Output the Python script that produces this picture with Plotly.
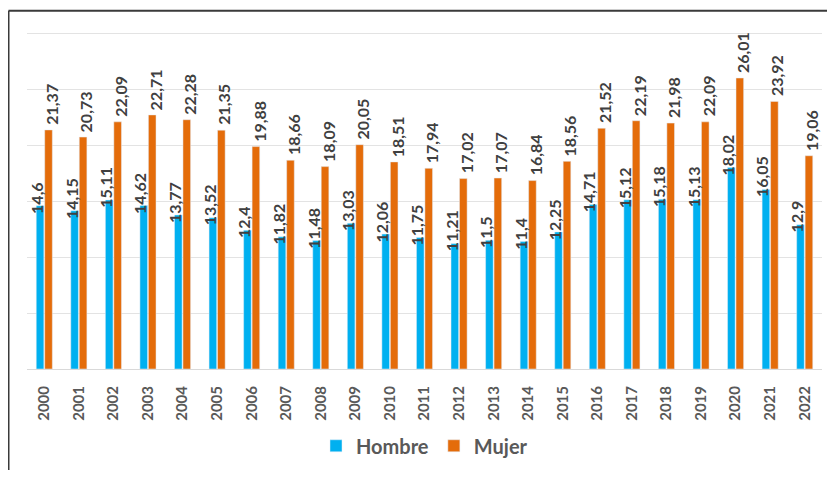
import plotly.graph_objects as go

years = [str(y) for y in range(2000, 2023)]
hombre = [14.6, 14.15, 15.11, 14.62, 13.77, 13.52, 12.4, 11.82, 11.48, 13.03, 12.06, 11.75,
          11.21, 11.5, 11.4, 12.25, 14.71, 15.12, 15.18, 15.13, 18.02, 16.05, 12.9]
mujer = [21.37, 20.73, 22.09, 22.71, 22.28, 21.35, 19.88, 18.66, 18.09, 20.05, 18.51, 17.94,
         17.02, 17.07, 16.84, 18.56, 21.52, 22.19, 21.98, 22.09, 26.01, 23.92, 19.06]

BLUE = "#00B0F0"
ORANGE = "#E46C0A"
TXT = "#404040"

def fmt(v):
    s = ("%.2f" % v).rstrip("0").rstrip(".")
    return s.replace(".", ",")

fig = go.Figure()
fig.add_trace(go.Bar(x=years, y=hombre, name="Hombre", marker_color=BLUE))
fig.add_trace(go.Bar(x=years, y=mujer, name="Mujer", marker_color=ORANGE))

annotations = []
for i, (h, m) in enumerate(zip(hombre, mujer)):
    annotations.append(dict(x=i, y=h, text=fmt(h), textangle=-90, showarrow=False,
                            xanchor="center", yanchor="bottom", xshift=-8, yshift=-10,
                            font=dict(family="Lato", size=16, color=TXT, weight="bold")))
    annotations.append(dict(x=i, y=m, text=fmt(m), textangle=-90, showarrow=False,
                            xanchor="center", yanchor="bottom", xshift=7, yshift=3,
                            font=dict(family="Lato", size=16, color=TXT, weight="bold")))

# page has an 8px body margin on every side; figure sized so the page is 835x478
W, H = 819, 462
base_y = 366          # pixel of y=0 inside figure
ppu = 341 / 30        # pixels per unit
ymax = 30.3
L, R = 19, 5
B = H - base_y
T = base_y - ymax * ppu
pw, ph = W - L - R, H - T - B
bx = (0.5 - L) / pw
ty = (base_y - 2) / ph

fig.update_layout(
    width=W, height=H,
    margin=dict(l=L, r=R, t=T, b=B),
    paper_bgcolor="white", plot_bgcolor="white",
    barmode="group", bargap=0.51, bargroupgap=0.1,
    showlegend=True,
    legend=dict(orientation="h", x=0.5, xanchor="center", y=(base_y - 444) / ph, yanchor="middle",
                font=dict(family="Lato", size=20, color="#595959", weight="bold"),
                itemwidth=30, tracegroupgap=0),
    annotations=annotations,
    shapes=[
        dict(type="line", xref="paper", yref="paper", x0=bx, x1=bx, y0=-0.5, y1=ty,
             line=dict(color="#3a3a3a", width=2)),
        dict(type="line", xref="paper", yref="paper", x0=bx, x1=1.1, y0=ty, y1=ty,
             line=dict(color="#3a3a3a", width=2)),
    ],
)
fig.update_xaxes(type="category", range=[-0.5, len(years) - 0.5], tickangle=-90,
                 showgrid=False, showline=True,
                 linecolor="#D9D9D9", linewidth=1, ticks="", ticklabelstandoff=10,
                 tickfont=dict(family="Lato", size=15, color="#595959", weight="bold"))
fig.update_yaxes(range=[0, ymax], dtick=5, showgrid=True, gridcolor="#E3E3E3", gridwidth=1,
                 showticklabels=False, zeroline=True, zerolinecolor="#D9D9D9", zerolinewidth=1)

fig.write_html("out.html")
